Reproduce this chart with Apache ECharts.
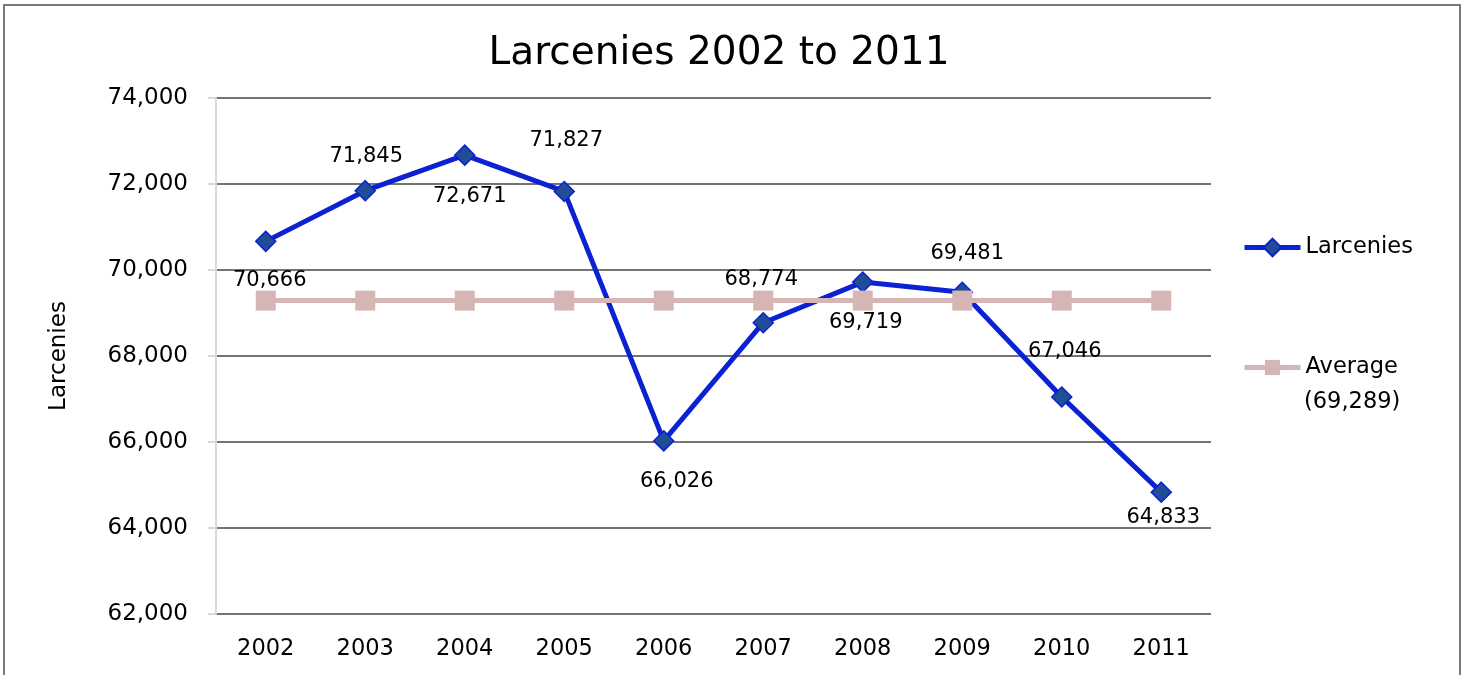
<!DOCTYPE html>
<html>
<head>
<meta charset="utf-8">
<title>Larcenies 2002 to 2011</title>
<script src="https://cdn.jsdelivr.net/npm/echarts@6/dist/echarts.min.js"></script>
<style>
  html, body { margin: 0; padding: 0; background: #ffffff; }
  #chart { width: 1466px; height: 675px; }
</style>
</head>
<body>
<div id="chart"></div>
<script>
// Yearly larceny counts
const years = ['2002', '2003', '2004', '2005', '2006', '2007', '2008', '2009', '2010', '2011'];
const larcenies = [70666, 71845, 72671, 71827, 66026, 68774, 69719, 69481, 67046, 64833];
// Ten-year average, drawn as a flat reference line
const averageValues = [69289, 69289, 69289, 69289, 69289, 69289, 69289, 69289, 69289, 69289];
const averageLabel = '(69,289)';
// Y axis range and tick step
const yMin = 62000;
const yMax = 74000;
const yStep = 2000;

// Where each value label sits relative to its marker (layout only)
const labelOffsets = [
  [4, 39], [1, -34], [5, 41], [2, -51], [13, 41],
  [-2, -43], [3, 40], [5, -39], [3, -45], [2, 25]
];

const FONT = 'DejaVu Sans';
const BLUE = '#0a22d2';
const PINK = '#d5b6b5';
const fmt = v => Number(v).toLocaleString('en-US');

const chart = echarts.init(document.getElementById('chart'), null, { renderer: 'canvas' });

chart.setOption({
  animation: false,
  backgroundColor: '#ffffff',
  textStyle: { fontFamily: FONT, color: '#000000' },
  title: {
    text: 'Larcenies 2002 to 2011',
    left: 714,
    top: 29,
    textAlign: 'center',
    textStyle: { fontFamily: FONT, fontSize: 39, fontWeight: 'normal', color: '#000000' }
  },
  graphic: [{
    type: 'rect',
    shape: { x: 4, y: 5, width: 1456, height: 700 },
    style: { fill: 'none', stroke: '#7a7a7a', lineWidth: 2 },
    silent: true,
    z: 0
  }, {
    // second line of the average legend entry
    type: 'text',
    style: {
      x: 1304, y: 402,
      text: averageLabel,
      font: '22.5px "DejaVu Sans"',
      fill: '#000000',
      verticalAlign: 'middle',
      align: 'left'
    },
    silent: true
  }],
  legend: [{
    data: ['Larcenies'],
    orient: 'vertical',
    left: 1242,
    top: 236,
    padding: 0,
    itemWidth: 56,
    itemHeight: 22,
    itemGap: 0,
    lineStyle: { width: 5 },
    textStyle: { fontFamily: FONT, fontSize: 22.5, color: '#000000' }
  }, {
    data: ['Average'],
    orient: 'vertical',
    left: 1242,
    top: 356,
    padding: 0,
    itemWidth: 56,
    itemHeight: 19,
    itemGap: 0,
    lineStyle: { width: 5 },
    textStyle: { fontFamily: FONT, fontSize: 22.5, color: '#000000' }
  }],
  grid: { left: 216, right: 255, top: 98, bottom: 61, containLabel: false },
  xAxis: {
    type: 'category',
    data: years,
    boundaryGap: true,
    axisLine: { show: false },
    axisTick: { show: false },
    axisLabel: { fontFamily: FONT, fontSize: 22.5, color: '#000000', margin: 24 }
  },
  yAxis: {
    type: 'value',
    min: yMin,
    max: yMax,
    interval: yStep,
    name: 'Larcenies',
    nameLocation: 'middle',
    nameGap: 145,
    nameTextStyle: { fontFamily: FONT, fontSize: 23, color: '#000000' },
    axisLine: { show: true, lineStyle: { color: '#d9d9d9', width: 2 } },
    axisTick: { show: true, length: 8, lineStyle: { color: '#d9d9d9', width: 2 } },
    axisLabel: { fontFamily: FONT, fontSize: 23, color: '#000000', margin: 28, formatter: v => fmt(v) },
    splitLine: { show: true, lineStyle: { color: '#747474', width: 2 } }
  },
  series: [{
    name: 'Larcenies',
    type: 'line',
    data: larcenies.map((v, i) => ({
      value: v,
      label: { offset: labelOffsets[i] }
    })),
    symbol: 'diamond',
    symbolSize: 20,
    lineStyle: { color: BLUE, width: 5 },
    itemStyle: { color: '#214c96', borderColor: BLUE, borderWidth: 1.5 },
    label: {
      show: true,
      position: 'inside',
      align: 'center',
      verticalAlign: 'middle',
      fontFamily: FONT,
      fontSize: 21,
      color: '#000000',
      formatter: p => fmt(p.value)
    },
    z: 2
  }, {
    name: 'Average',
    type: 'line',
    data: averageValues,
    symbol: 'rect',
    symbolSize: 20,
    lineStyle: { color: PINK, width: 5 },
    itemStyle: { color: PINK, borderWidth: 0 },
    label: { show: false },
    z: 3
  }]
});
</script>
</body>
</html>
